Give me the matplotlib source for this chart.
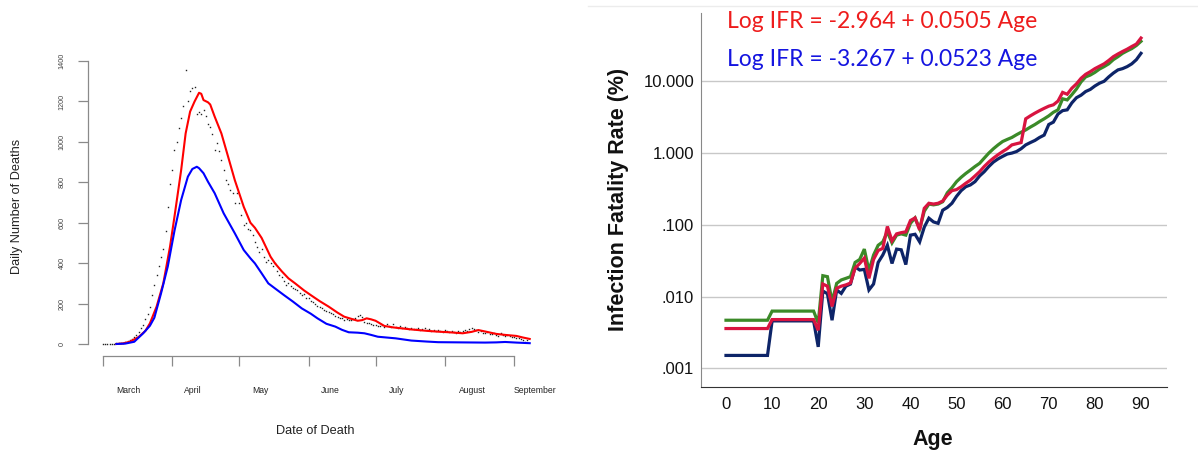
import matplotlib.pyplot as plt
from matplotlib.lines import Line2D

# ---------------- left panel: daily deaths (days counted from 1 March) ----------------
month_names = ["March", "April", "May", "June", "July", "August", "September"]
month_start_days = [0, 31, 61, 92, 122, 153, 184]

obs_deaths = [
    0, 0, 1, 1, 2, 2, 3, 4, 5, 7,
    9, 13, 18, 26, 36, 45, 58, 77, 92, 125,
    150, 185, 240, 290, 340, 385, 430, 470, 560, 680,
    790, 860, 960, 1000, 1070, 1120, 1180, 1355, 1200, 1250,
    1265, 1270, 1140, 1150, 1140, 1160, 1130, 1090, 1075, 1040,
    960, 995, 955, 910, 860, 811, 790, 762, 745, 700,
    745, 696, 640, 589, 600, 570, 564, 540, 506, 480,
    457, 470, 430, 407, 416, 400, 385, 399, 360, 341,
    330, 310, 292, 300, 285, 275, 270, 267, 250, 240,
    245, 226, 230, 215, 210, 200, 190, 185, 180, 170,
    165, 160, 152, 148, 140, 135, 130, 127, 120, 125,
    118, 119, 122, 130, 140, 143, 135, 110, 102, 105,
    98, 94, 96, 90, 88, 92, 85, 99, 90, 86,
    99, 84, 80, 88, 78, 82, 77, 74, 80, 76,
    72, 78, 70, 74, 77, 68, 72, 66, 70, 65,
    69, 64, 60, 69, 62, 58, 64, 60, 56, 62,
    58, 64, 70, 66, 74, 77, 72, 68, 60, 64,
    56, 53, 58, 50, 48, 52, 46, 42, 53, 45,
    40, 44, 38, 33, 36, 30, 28, 25, 22, 11,
    18,
]
obs_days = list(range(len(obs_deaths)))

red_days = [6, 9, 12, 16, 19, 21, 24, 27, 30, 32, 35, 37, 39, 41, 43, 44, 45, 47, 48,
            50, 53, 56, 59, 63, 66, 68, 71, 75, 77, 80, 83, 86, 90, 93, 97, 101, 105,
            108, 111, 114, 116, 118, 120, 122, 126, 130, 134, 138, 141, 145, 150, 155,
            161, 165, 168, 171, 176, 180, 185, 188, 191]
red_deaths = [0, 3, 11, 35, 65, 102, 185, 300, 481, 630, 861, 1042, 1150, 1200, 1243,
              1238, 1207, 1196, 1185, 1125, 1042, 927, 811, 679, 600, 575, 525, 432, 399,
              360, 325, 300, 265, 242, 212, 185, 155, 135, 125, 115, 118, 127, 122, 115,
              89, 82, 77, 72, 69, 65, 61, 58, 53, 60, 69, 62, 50, 45, 40, 32, 25]

blue_days = [6, 10, 14, 18, 21, 23, 26, 29, 32, 35, 38, 40, 42, 43, 45, 47, 50, 54, 59,
             63, 66, 68, 71, 74, 77, 81, 85, 89, 93, 96, 100, 104, 107, 110, 114, 117,
             120, 123, 127, 131, 138, 145, 150, 160, 171, 176, 180, 185, 191]
blue_deaths = [0, 2, 11, 53, 90, 130, 251, 383, 560, 713, 828, 866, 877, 870, 845, 803,
               746, 647, 548, 465, 424, 399, 350, 300, 275, 242, 210, 176, 150, 127, 100,
               86, 70, 58, 56, 53, 45, 36, 32, 28, 17, 12, 9, 8, 7, 8, 10, 7, 4]

# ---------------- right panel: IFR by age ----------------
ages = list(range(91))
ifr_green = [
    .0047, .0047, .0047, .0047, .0047, .0047, .0047, .0047, .0047, .0047,
    .0063, .0063, .0063, .0063, .0063, .0063, .0063, .0063, .0063, .0063,
    .0043, .0196, .0190, .0085, .0153, .0171, .0180, .0190, .0300, .0330,
    .0460, .0230, .0380, .0520, .0580, .0800, .0560, .0720, .0750, .0720,
    .1050, .1250, .0880, .1550, .1950, .1900, .1950, .2100, .2800, .3300,
    .40, .46, .52, .58, .65, .72, .85, 1.00, 1.15, 1.30,
    1.45, 1.55, 1.65, 1.80, 1.95, 2.10, 2.30, 2.50, 2.75, 3.00,
    3.30, 3.70, 4.00, 5.70, 5.50, 6.50, 7.80, 9.80, 11.5, 12.2,
    13.3, 14.8, 16.0, 17.5, 20.0, 22.0, 24.5, 26.5, 28.5, 31.5,
    36.0,
]
ifr_red = [
    .0036, .0036, .0036, .0036, .0036, .0036, .0036, .0036, .0036, .0036,
    .0048, .0048, .0048, .0048, .0048, .0048, .0048, .0048, .0048, .0048,
    .0034, .0150, .0140, .0073, .0131, .0140, .0146, .0155, .0250, .0290,
    .0345, .0180, .0330, .0440, .0470, .0950, .0600, .0750, .0780, .0800,
    .1150, .1250, .0850, .1700, .2000, .1950, .2000, .2150, .2600, .3000,
    .31, .34, .38, .42, .48, .55, .65, .75, .85, .95,
    1.05, 1.15, 1.30, 1.35, 1.40, 3.00, 3.30, 3.60, 3.90, 4.20,
    4.50, 4.70, 5.30, 7.00, 6.60, 8.00, 9.20, 11.0, 12.5, 13.6,
    15.0, 16.2, 17.5, 19.5, 22.0, 24.0, 26.0, 28.0, 30.5, 33.0,
    40.0,
]
ifr_navy = [
    .00152, .00152, .00152, .00152, .00152, .00152, .00152, .00152, .00152, .00152,
    .0046, .0046, .0046, .0046, .0046, .0046, .0046, .0046, .0046, .0046,
    .0020, .0120, .0110, .0047, .0124, .0111, .0140, .0150, .0260, .0235,
    .0240, .0124, .0150, .0300, .0380, .0520, .0290, .0460, .0450, .0280,
    .0720, .0740, .0580, .0930, .1240, .1100, .1050, .1600, .1750, .2000,
    .25, .30, .34, .36, .40, .48, .55, .65, .75, .83,
    .90, .97, 1.00, 1.05, 1.15, 1.30, 1.40, 1.50, 1.65, 1.78,
    2.50, 2.70, 3.50, 3.90, 4.00, 5.00, 5.90, 6.40, 7.20, 7.70,
    8.60, 9.40, 10.0, 11.5, 13.0, 14.4, 15.0, 16.0, 17.5, 20.0,
    24.5,
]
ifr_ticks = [0.001, 0.01, 0.1, 1, 10]
ifr_tick_labels = [".001", ".010", ".100", "1.000", "10.000"]
age_ticks = list(range(0, 91, 10))

W, H = 1198, 450
fig = plt.figure(figsize=(W / 100, H / 100), dpi=100)
plt.rcParams["font.family"] = ["Liberation Sans", "DejaVu Sans"]


def rect(x0, y0, x1, y1):
    # pixel box -> figure fraction
    return [x0 / W, 1 - y1 / H, (x1 - x0) / W, (y1 - y0) / H]


# ---- left ----
ax = fig.add_axes(rect(88, 55, 540, 356))
ax.plot(obs_days, obs_deaths, ls="none", marker="s", ms=1.0, mew=0, color="#222222")
ax.plot(red_days, red_deaths, color="#ff0000", lw=1.5)
ax.plot(blue_days, blue_deaths, color="#0000ff", lw=1.5)
ax.set_xlim(-6.7, 195.6)
ax.set_ylim(-59.4, 1430)
for s in ["top", "right"]:
    ax.spines[s].set_visible(False)
ax.spines["left"].set_bounds(0, 1400)
ax.spines["bottom"].set_bounds(0, 184)
for s in ["left", "bottom"]:
    ax.spines[s].set_color("#8a8a8a")
    ax.spines[s].set_linewidth(0.9)
ax.set_yticks(range(0, 1401, 200))
ax.tick_params(axis="y", length=7.2, width=0.9, color="#8a8a8a", pad=9,
               labelsize=5.2, labelcolor="#444444", labelrotation=90)
for t in ax.get_yticklabels():
    t.set_va("center")
ax.set_xticks(month_start_days)
ax.set_xticklabels([])
ax.tick_params(axis="x", which="major", length=7.2, width=0.9, color="#8a8a8a")
ax.set_xticks([11.2, 40.3, 70.3, 101.6, 131.2, 165.2, 193.4], minor=True)
ax.set_xticklabels(month_names, minor=True)
ax.tick_params(axis="x", which="minor", length=0, pad=21.5, labelsize=6.2,
               labelcolor="#222222")
fig.text(16.7 / W, 1 - 206.7 / H, "Daily Number of Deaths", rotation=90,
         ha="center", va="center", fontsize=9.2, color="#222222")
fig.text(315.5 / W, 1 - 430.7 / H, "Date of Death", ha="center", va="center",
         fontsize=9.2, color="#222222")

# ---- right ----
bx = fig.add_axes(rect(701, 13, 1167, 387.3))
bx.set_yscale("log")
bx.plot(ages, ifr_navy, color="#0d2468", lw=2.3, solid_joinstyle="miter")
bx.plot(ages, ifr_green, color="#3b8a28", lw=2.3, solid_joinstyle="miter")
bx.plot(ages, ifr_red, color="#d81440", lw=2.3, solid_joinstyle="miter")
bx.set_xlim(-5.42, 95.64)
bx.set_ylim(5.47e-4, 89.3)
bx.set_yticks(ifr_ticks)
bx.set_yticklabels(ifr_tick_labels)
bx.yaxis.set_minor_locator(plt.NullLocator())
bx.set_xticks(age_ticks)
bx.grid(axis="y", color="#c8c8c8", lw=1.0)
bx.set_axisbelow(True)
for s in ["top", "right"]:
    bx.spines[s].set_visible(False)
bx.spines["left"].set_color("#888888")
bx.spines["bottom"].set_color("#333333")
bx.tick_params(axis="both", length=0, labelsize=12, labelcolor="#111111")
bx.tick_params(axis="y", pad=5)
bx.tick_params(axis="x", pad=7)
fig.text(618 / W, 1 - 199 / H, "Infection Fatality Rate (%)", rotation=90,
         ha="center", va="center", fontsize=15.5, fontweight="bold", color="#111111")
fig.text(933 / W, 1 - 439 / H, "Age", ha="center", va="center",
         fontsize=15.5, fontweight="bold", color="#111111")
fig.text(727 / W, 1 - 21 / H, "Log IFR = -2.964 + 0.0505 Age", ha="left",
         va="center", fontsize=16.5, color="#ee1c1c", family=["Lato", "DejaVu Sans"])
fig.text(727 / W, 1 - 59 / H, "Log IFR = -3.267 + 0.0523 Age", ha="left",
         va="center", fontsize=16.5, color="#1515e0", family=["Lato", "DejaVu Sans"])
fig.add_artist(Line2D([588 / W, 1], [1 - 6 / H, 1 - 6 / H], color="#ececec", lw=1))

fig.savefig("out.png", dpi=100)
